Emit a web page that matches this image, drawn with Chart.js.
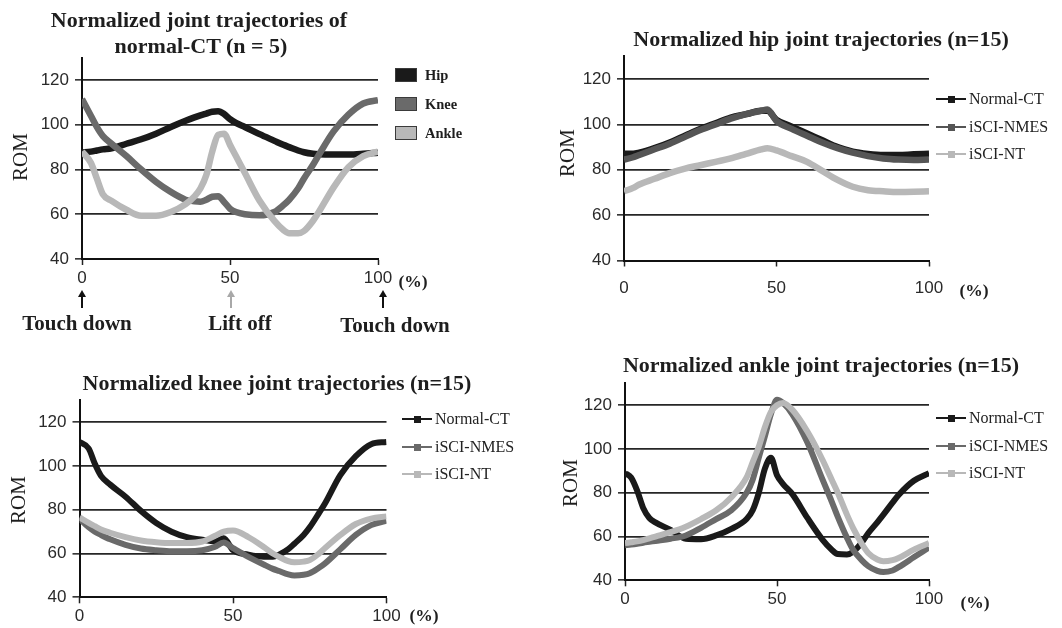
<!DOCTYPE html>
<html>
<head>
<meta charset="utf-8">
<title>Normalized joint trajectories</title>
<script src="https://cdn.jsdelivr.net/npm/chart.js@4.4.1/dist/chart.umd.min.js"></script>
<style>
  body { margin: 0; background: #fff; width: 1062px; height: 628px; position: relative; overflow: hidden;
         font-family: "Liberation Serif", "Times New Roman", serif; color: #1e1e1e; }
  canvas { position: absolute; }
  .t { position: absolute; transform: translate(-50%, -50%); white-space: nowrap; }
  .title { font-weight: bold; font-size: 22px; }
  .rom { font-size: 21px; transform: translate(-50%, -50%) rotate(-90deg); }
  .pct { font-weight: bold; font-size: 17.5px; }
  .event { font-weight: bold; font-size: 21px; }
  .leg { position: absolute; white-space: nowrap; transform: translateY(-50%); }
  .arrow { position: absolute; width: 10px; height: 18px; transform: translateX(-50%); }
  .arrow .head { width: 0; height: 0; margin: 0 auto; border-left: 4.5px solid transparent;
                 border-right: 4.5px solid transparent; border-bottom: 7px solid; }
  .arrow .shaft { width: 2px; height: 11px; margin: 0 auto; }
</style>
</head>
<body>
<canvas id="c1" width="531" height="314" style="left:0;top:0"></canvas>
<canvas id="c2" width="531" height="314" style="left:531px;top:0"></canvas>
<canvas id="c3" width="531" height="314" style="left:0;top:314px"></canvas>
<canvas id="c4" width="531" height="314" style="left:531px;top:314px"></canvas>

<div class="t title" style="left:199px;top:20px">Normalized joint trajectories of</div>
<div class="t title" style="left:201px;top:46px">normal-CT (n = 5)</div>
<div class="t title" style="left:821px;top:39px">Normalized hip joint trajectories (n=15)</div>
<div class="t title" style="left:277px;top:383px">Normalized knee joint trajectories (n=15)</div>
<div class="t title" style="left:821px;top:365px">Normalized ankle joint trajectories (n=15)</div>

<div class="t rom" style="left:20px;top:157px">ROM</div>
<div class="t rom" style="left:567px;top:153px">ROM</div>
<div class="t rom" style="left:18px;top:500px">ROM</div>
<div class="t rom" style="left:570px;top:483px">ROM</div>

<div class="t pct" style="left:413px;top:281px">(%)</div>
<div class="t pct" style="left:974px;top:290px">(%)</div>
<div class="t pct" style="left:424px;top:615px">(%)</div>
<div class="t pct" style="left:975px;top:602px">(%)</div>

<div class="arrow" style="left:82px;top:290px;color:#111"><div class="head"></div><div class="shaft" style="background:#111"></div></div>
<div class="arrow" style="left:231px;top:290px;color:#a8a8a8"><div class="head"></div><div class="shaft" style="background:#a8a8a8"></div></div>
<div class="arrow" style="left:383px;top:290px;color:#111"><div class="head"></div><div class="shaft" style="background:#111"></div></div>
<div class="t event" style="left:77px;top:323px">Touch down</div>
<div class="t event" style="left:240px;top:323px">Lift off</div>
<div class="t event" style="left:395px;top:325px">Touch down</div>

<div id="legends"></div>

<script>
// Trayectorias articulares normalizadas (ROM vs % del ciclo)

// Panel 1: normal-CT (n = 5)
const pctCT = [0, 3, 5, 7, 10, 15, 20, 25, 30, 35, 38, 40, 42, 44, 46, 48, 50, 52, 55, 60, 65, 68, 70, 73, 75, 78, 80, 85, 90, 95, 100];
const hipCT = [87.5, 88, 88.5, 89, 89.5, 91.5, 93.5, 96, 99, 101.8, 103.3, 104.2, 105, 105.8, 106, 104.8, 102.5, 100.8, 99, 95.8, 92.8, 91, 90, 88.5, 87.7, 87, 86.8, 86.7, 86.7, 87, 87.5];
const kneeCT = [111.5, 104, 99, 95, 91.5, 86, 80, 74.5, 70, 66.5, 65.8, 65.6, 66.5, 67.8, 68, 65.5, 62.5, 61, 60, 59.5, 61, 64, 66.5, 71.5, 76, 82, 86.5, 97, 104.5, 109.5, 111];
const ankleCT = [88, 83, 76, 69, 66, 62, 59.3, 59.3, 61, 64.5, 68, 71.5, 77.5, 88, 95.5, 96, 91, 86, 78.5, 66, 57, 53, 51.5, 51.5, 52.5, 57, 61, 72, 81, 86, 88];

// Panel 2: cadera (n=15)
const pctHip = [0, 3, 5, 10, 15, 20, 25, 30, 35, 40, 45, 47, 50, 55, 60, 65, 70, 75, 80, 85, 90, 95, 100];
const hipNormal = [87, 87, 87.5, 89.5, 92, 95, 98, 100.5, 103, 104.5, 106, 106, 102, 99, 96, 93, 90, 88, 87, 86.5, 86.5, 86.8, 87];
const hipNMES = [84.5, 85.5, 86.5, 89, 91.5, 94.5, 97.5, 100, 102.5, 104.5, 106, 106.5, 101.5, 98, 95, 92, 89.5, 87.5, 86, 85, 84.5, 84.3, 84.5];
const hipNT = [70.5, 72, 73.5, 76, 78.5, 80.5, 82, 83.5, 85, 87, 89, 89.5, 88.5, 86, 83.5, 79.5, 75.5, 72.5, 71, 70.5, 70.2, 70.3, 70.5];

// Panel 3: rodilla (n=15)
const pctKnee = [0, 3, 5, 7, 10, 15, 20, 25, 30, 35, 40, 44, 47, 50, 55, 60, 63, 65, 68, 70, 73, 75, 78, 80, 85, 90, 95, 100];
const kneeNormal = [111, 108, 101, 95.5, 91.5, 86, 79.5, 74, 70, 67.5, 66.3, 65.5, 67, 61.5, 59.5, 58.5, 58.5, 59.5, 62, 64.5, 68.5, 72, 78.5, 83, 96, 104.5, 110, 111];
const kneeNMES = [76, 72, 70, 68.5, 66.5, 64, 62.3, 61.5, 61, 61, 61.5, 63, 65, 62.5, 58.5, 55, 53, 52, 50.5, 50, 50.3, 51, 53.5, 55.5, 62, 68.5, 73, 75];
const kneeNT = [76.5, 74, 72.5, 71, 69.5, 67.5, 66, 65.2, 64.8, 64.8, 65.5, 68, 70, 70.5, 67.5, 63, 60, 58.5, 56.5, 56, 56.3, 57, 60, 62.5, 68.5, 73.5, 76, 77];

// Panel 4: tobillo (n=15)
const pctAnkle = [0, 2, 4, 6, 8, 10, 15, 20, 25, 30, 35, 40, 42, 44, 46, 48, 50, 52, 55, 60, 65, 68, 70, 73, 75, 78, 80, 83, 85, 88, 90, 95, 100];
const ankleNormal = [89, 87, 81, 73, 68.5, 66.5, 63, 59, 58.8, 60.5, 63.5, 68, 72, 80, 91, 96, 88, 84, 79.5, 68.5, 58.5, 54, 52, 51.8, 53, 57.5, 61.5, 66.5, 70, 75.5, 79, 85.5, 89];
const ankleNMES = [56, 56.3, 56.7, 57.2, 57.6, 58, 59, 60.5, 64, 68, 72, 80, 86, 96, 105.8, 116, 122.5, 121, 116, 103, 86, 76, 69, 59.5, 54, 49, 46.5, 44.3, 43.8, 44.5, 46, 50.5, 55];
const ankleNT = [57, 57.4, 57.8, 58.4, 59.2, 60, 62, 64.5, 68, 72, 78, 87, 94, 101, 110, 117, 120, 121, 118, 108, 95, 86, 80, 70, 64, 56.5, 52.5, 49.5, 48.7, 49.2, 50.2, 54, 57];

const yTicks = [40, 60, 80, 100, 120];
const xTicks = [0, 50, 100];

const NEGRO = '#1a1a1a';
const GRIS = '#6a6a6a';
const CLARO = '#b8b8b8';

function crearGrafica(id, pct, series, area, xPad, lw) {
    const W = 531, H = 314;
    const fuente = { family: '"Liberation Sans", Arial, sans-serif', size: 17 };
    return new Chart(document.getElementById(id), {
        type: 'line',
        data: {
            datasets: series.map((s, k) => ({
                label: s.label,
                data: pct.map((x, i) => ({ x: x, y: s.values[i] })),
                borderColor: s.color,
                borderWidth: lw,
                pointRadius: 0,
                cubicInterpolationMode: 'monotone',
                fill: false,
                order: series.length - k
            }))
        },
        options: {
            responsive: false,
            animation: false,
            devicePixelRatio: 1,
            layout: { padding: { left: 0, right: W - area.r, top: area.t, bottom: 0 } },
            plugins: { legend: { display: false }, title: { display: false }, tooltip: { enabled: false } },
            scales: {
                x: {
                    type: 'linear', min: 0, max: 100,
                    afterFit: s => { s.height = H - area.b; },
                    afterBuildTicks: s => { s.ticks = xTicks.map(v => ({ value: v })); },
                    ticks: { padding: xPad, font: fuente, color: '#2a2a2a', maxRotation: 0 },
                    grid: { drawOnChartArea: false, tickLength: 6, tickColor: '#222', tickWidth: 1.5 },
                    border: { color: '#111', width: 2 }
                },
                y: {
                    min: 40, max: 130,
                    afterFit: s => { s.width = area.l; },
                    afterBuildTicks: s => { s.ticks = yTicks.map(v => ({ value: v })); },
                    ticks: { padding: 6, font: fuente, color: '#2a2a2a' },
                    grid: {
                        color: c => (c.tick && c.tick.value === 40) ? 'rgba(0,0,0,0)' : '#262626',
                        lineWidth: 1.7, tickLength: 7, tickColor: '#222', tickWidth: 1.5
                    },
                    border: { color: '#111', width: 2 }
                }
            }
        }
    });
}

const seriesCT = [
    { label: 'Hip', values: hipCT, color: NEGRO },
    { label: 'Knee', values: kneeCT, color: GRIS },
    { label: 'Ankle', values: ankleCT, color: CLARO }
];
const seriesHip = [
    { label: 'Normal-CT', values: hipNormal, color: NEGRO },
    { label: 'iSCI-NMES', values: hipNMES, color: '#555555' },
    { label: 'iSCI-NT', values: hipNT, color: CLARO }
];
const seriesKnee = [
    { label: 'Normal-CT', values: kneeNormal, color: NEGRO },
    { label: 'iSCI-NMES', values: kneeNMES, color: GRIS },
    { label: 'iSCI-NT', values: kneeNT, color: CLARO }
];
const seriesAnkle = [
    { label: 'Normal-CT', values: ankleNormal, color: NEGRO },
    { label: 'iSCI-NMES', values: ankleNMES, color: GRIS },
    { label: 'iSCI-NT', values: ankleNT, color: CLARO }
];

crearGrafica('c1', pctCT, seriesCT, { l: 82, r: 378, t: 57.6, b: 259 }, 3, 6.5);
crearGrafica('c2', pctHip, seriesHip, { l: 93, r: 398, t: 56.3, b: 260.5 }, 12, 6.5);
crearGrafica('c3', pctKnee, seriesKnee, { l: 79.5, r: 386.5, t: 86.4, b: 283.3 }, 3, 6);
crearGrafica('c4', pctAnkle, seriesAnkle, { l: 94, r: 398, t: 69.4, b: 266.3 }, 3, 6);

// Leyendas
const cont = document.getElementById('legends');
function leyendaCaja(series, x, ys) {
    series.forEach((s, i) => {
        const caja = document.createElement('div');
        caja.style.cssText = `position:absolute;left:${x}px;top:${ys[i] - 7}px;width:20px;height:12px;background:${s.color};border:1.5px solid #3a3a3a`;
        cont.appendChild(caja);
        const txt = document.createElement('div');
        txt.className = 'leg';
        txt.style.cssText = `left:${x + 30}px;top:${ys[i]}px;font-weight:bold;font-size:14.5px`;
        txt.textContent = s.label;
        cont.appendChild(txt);
    });
}
function leyendaLinea(series, x, ys) {
    series.forEach((s, i) => {
        const linea = document.createElement('div');
        linea.style.cssText = `position:absolute;left:${x}px;top:${ys[i] - 1}px;width:30px;height:2px;background:${s.color}`;
        cont.appendChild(linea);
        const marca = document.createElement('div');
        marca.style.cssText = `position:absolute;left:${x + 12}px;top:${ys[i] - 3.5}px;width:7px;height:7px;background:${s.color}`;
        cont.appendChild(marca);
        const txt = document.createElement('div');
        txt.className = 'leg';
        txt.style.cssText = `left:${x + 33}px;top:${ys[i]}px;font-size:16px;color:#222`;
        txt.textContent = s.label;
        cont.appendChild(txt);
    });
}
leyendaCaja(seriesCT, 395, [75, 104, 133]);
leyendaLinea(seriesHip, 936, [99, 127, 154]);
leyendaLinea(seriesKnee, 402, [419, 447, 474]);
leyendaLinea(seriesAnkle, 936, [418, 446, 473]);
</script>
</body>
</html>
